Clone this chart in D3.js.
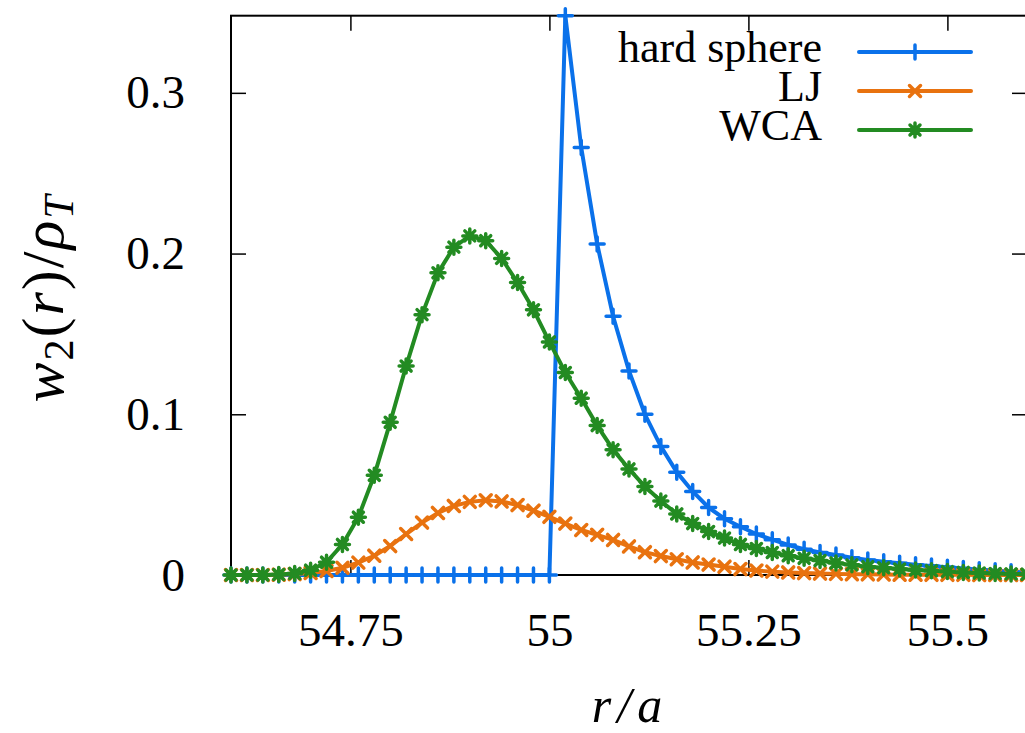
<!DOCTYPE html>
<html>
<head>
<meta charset="utf-8">
<script src="https://cdn.jsdelivr.net/npm/d3@7"></script>
<style>
  body { margin: 0; background: #fff; }
  svg { display: block; }
  text { font-family: "Liberation Serif", "Times New Roman", Times, "DejaVu Serif", serif; }
</style>
</head>
<body>
<div id="chart"></div>
<script>
// r/a sample points
var rValues = [54.60, 54.62, 54.64, 54.66, 54.68, 54.70, 54.72, 54.74, 54.76, 54.78,
               54.80, 54.82, 54.84, 54.86, 54.88, 54.90, 54.92, 54.94, 54.96, 54.98,
               55.00, 55.02, 55.04, 55.06, 55.08, 55.10, 55.12, 55.14, 55.16, 55.18,
               55.20, 55.22, 55.24, 55.26, 55.28, 55.30, 55.32, 55.34, 55.36, 55.38,
               55.40, 55.42, 55.44, 55.46, 55.48, 55.50, 55.52, 55.54, 55.56, 55.58,
               55.60];

var hardSphere = [0, 0, 0, 0, 0, 0, 0, 0, 0, 0,
                  0, 0, 0, 0, 0, 0, 0, 0, 0, 0,
                  0, 0.348, 0.266, 0.206, 0.161, 0.127, 0.100, 0.080, 0.064, 0.052,
                  0.042, 0.035, 0.030, 0.0255, 0.022, 0.0187, 0.016, 0.014, 0.0125, 0.0108,
                  0.0093, 0.0083, 0.0073, 0.0064, 0.0056, 0.0048, 0.0040, 0.0033, 0.0026, 0.0020,
                  0.0015];

var lj = [0, 0, 0, 0.0002, 0.0006, 0.0013, 0.0025, 0.0045, 0.0077, 0.012,
          0.018, 0.0255, 0.0326, 0.0386, 0.043, 0.0455, 0.0465, 0.0458, 0.0435, 0.040,
          0.0362, 0.032, 0.028, 0.025, 0.0218, 0.0178, 0.0142, 0.0118, 0.0098, 0.0078,
          0.0065, 0.0052, 0.0037, 0.0028, 0.0021, 0.0016, 0.0012, 0.0009, 0.0007, 0.0005,
          0.0004, 0.0003, 0.0002, 0.0002, 0.0001, 0.0001, 0.0001, 0, 0, 0,
          0];

var wca = [0, 0, 0, 0.0003, 0.001, 0.003, 0.008, 0.019, 0.036, 0.062,
           0.095, 0.130, 0.162, 0.188, 0.204, 0.211, 0.208, 0.197, 0.182, 0.165,
           0.145, 0.126, 0.110, 0.093, 0.078, 0.066, 0.055, 0.046, 0.038, 0.032,
           0.027, 0.023, 0.019, 0.0165, 0.014, 0.012, 0.0104, 0.009, 0.0075, 0.0063,
           0.0052, 0.0045, 0.0037, 0.0031, 0.0027, 0.0021, 0.0016, 0.0012, 0.0009, 0.0007,
           0.0005];

var seriesNames = ["hard sphere", "LJ", "WCA"];
var xTicks = [54.75, 55, 55.25, 55.5];
var xTickLabels = ["54.75", "55", "55.25", "55.5"];
var yTicks = [0, 0.1, 0.2, 0.3];
var yTickLabels = ["0", "0.1", "0.2", "0.3"];

function init(){

    var w = 1025;
    var h = 733;
    var left = 231, right = 1027, top = 15.7, bottom = 575;

    var colors = ["#0a71ea", "#e8720f", "#238b22"];
    // gnuplot style point types: plus, cross, star
    var markers = [
        "M-7,0H7M0,-7V7",
        "M-5.5,-5.5L5.5,5.5M-5.5,5.5L5.5,-5.5",
        "M-7,0H7M0,-7V7M-5,-5L5,5M-5,5L5,-5"
    ];

    var allSeries = [hardSphere, lj, wca];
    var data = allSeries.map(function(vals){
        return vals.map(function(v, i){ return { r: rValues[i], v: v }; });
    });

    var xScale = d3.scaleLinear()
                    .domain(d3.extent(rValues))
                    .range([left, right]);

    var yScale = d3.scaleLinear()
                    .domain([0, d3.max(allSeries, function(s){ return d3.max(s); })])
                    .range([bottom, top]);

    var svg = d3.select("#chart")
                .append("svg")
                .attr("width", w)
                .attr("height", h);

    svg.append("rect")
        .attr("width", w)
        .attr("height", h)
        .attr("fill", "#fff");

    // axes, ticks pointing inward
    svg.append("g")
        .attr("transform", "translate(0," + bottom + ")")
        .call(d3.axisBottom(xScale)
                .tickValues(xTicks)
                .tickFormat(function(d, i){ return xTickLabels[i]; })
                .tickSizeInner(-15)
                .tickSizeOuter(0)
                .tickPadding(38));

    svg.append("g")
        .attr("transform", "translate(0," + top + ")")
        .call(d3.axisTop(xScale)
                .tickValues(xTicks)
                .tickFormat("")
                .tickSizeInner(-15)
                .tickSizeOuter(0));

    svg.append("g")
        .attr("transform", "translate(" + left + ",0)")
        .call(d3.axisLeft(yScale)
                .tickValues(yTicks)
                .tickFormat(function(d, i){ return yTickLabels[i]; })
                .tickSizeInner(-15)
                .tickSizeOuter(0)
                .tickPadding(46));

    svg.append("g")
        .attr("transform", "translate(" + right + ",0)")
        .call(d3.axisRight(yScale)
                .tickValues(yTicks)
                .tickFormat("")
                .tickSizeInner(-15)
                .tickSizeOuter(0));

    svg.selectAll(".domain").remove();
    svg.selectAll(".tick line")
        .attr("stroke", "#000")
        .attr("stroke-width", 1.5);
    svg.selectAll(".tick text")
        .attr("fill", "#000")
        .attr("font-size", "47px");
    svg.selectAll("g").attr("font-family", null).attr("font-size", null);

    // frame
    svg.append("rect")
        .attr("x", left)
        .attr("y", top)
        .attr("width", right - left)
        .attr("height", bottom - top)
        .attr("fill", "none")
        .attr("stroke", "#000")
        .attr("stroke-width", 2);

    var line = d3.line()
                .x(function(d){ return xScale(d.r); })
                .y(function(d){ return yScale(d.v); });

    var groups = svg.selectAll("g.series")
                .data(data)
                .enter()
                .append("g")
                .attr("class", "series");

    groups.append("path")
        .attr("d", line)
        .attr("fill", "none")
        .attr("stroke", function(d, i){ return colors[i]; })
        .attr("stroke-width", 4)
        .attr("stroke-linejoin", "round")
        .attr("stroke-linecap", "round");

    groups.each(function(d, j){
        d3.select(this).selectAll("path.pt")
            .data(d)
            .enter()
            .append("path")
            .attr("class", "pt")
            .attr("d", markers[j])
            .attr("transform", function(p){
                return "translate(" + xScale(p.r) + "," + yScale(p.v) + ")";
            })
            .attr("fill", "none")
            .attr("stroke", colors[j])
            .attr("stroke-width", 3.5)
            .attr("stroke-linecap", "round");
    });

    //Legend
    var legend = svg.selectAll("g.legend")
            .data(seriesNames)
            .enter()
            .append("g")
            .attr("class", "legend")
            .attr("transform", function(d, i){
                return "translate(0," + (52 + i*39) + ")";
            });

    legend.append("text")
        .attr("x", 822)
        .attr("y", 10)
        .attr("text-anchor", "end")
        .style("font-size", "44px")
        .text(function(d){ return d; });

    legend.append("line")
        .attr("x1", 859)
        .attr("x2", 971)
        .attr("stroke", function(d, i){ return colors[i]; })
        .attr("stroke-width", 4)
        .attr("stroke-linecap", "round");

    legend.append("path")
        .attr("d", function(d, i){ return markers[i]; })
        .attr("transform", "translate(915,0)")
        .attr("fill", "none")
        .attr("stroke", function(d, i){ return colors[i]; })
        .attr("stroke-width", 3.5)
        .attr("stroke-linecap", "round");

    // axis labels
    svg.append("text")
        .attr("x", 630)
        .attr("y", 722)
        .attr("text-anchor", "middle")
        .style("font-size", "50px")
        .style("font-style", "italic")
        .style("letter-spacing", "6px")
        .text("r/a");

    var yLabel = svg.append("text")
        .attr("transform", "translate(63,298) rotate(-90)")
        .attr("text-anchor", "middle")
        .style("font-size", "60px")
        .style("letter-spacing", "2px");

    yLabel.append("tspan").style("font-style", "italic").text("w");
    yLabel.append("tspan").attr("dy", 10).style("font-size", "42px").text("2");
    yLabel.append("tspan").attr("dy", -10).text("(");
    yLabel.append("tspan").style("font-style", "italic").text("r");
    yLabel.append("tspan").text(")/");
    yLabel.append("tspan").style("font-style", "italic").text("ρ");
    yLabel.append("tspan").attr("dy", 10).style("font-size", "42px").style("font-style", "italic").text("T");
}
window.onload = init;
</script>
</body>
</html>
